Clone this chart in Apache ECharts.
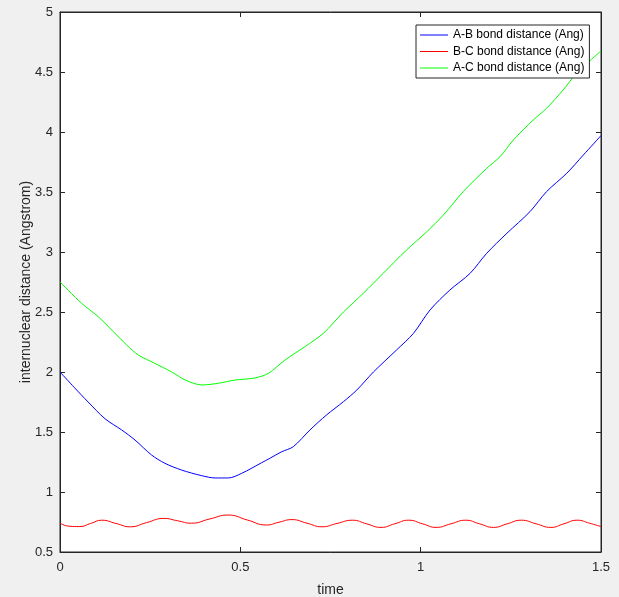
<!DOCTYPE html>
<html>
<head>
<meta charset="utf-8">
<script src="https://cdn.jsdelivr.net/npm/echarts@6/dist/echarts.min.js"></script>
<style>
html,body{margin:0;padding:0;background:#f0f0f0;}
#main{width:619px;height:597px;}
</style>
</head>
<body>
<div id="main"></div>
<script>
// bond distances
var ab_t = [0,0.04,0.078,0.125,0.171,0.208,0.254,0.291,0.337,0.393,0.43,0.467,0.504,0.559,0.582,0.615,0.647,0.693,0.739,0.786,0.823,0.869,0.933,0.98,1.026,1.081,1.137,1.183,1.239,1.303,1.349,1.405,1.451,1.5];
var ab_d = [2.0,1.87,1.75,1.61,1.517,1.433,1.308,1.239,1.183,1.136,1.117,1.117,1.156,1.244,1.281,1.336,1.378,1.517,1.642,1.753,1.85,2.0,2.183,2.322,2.517,2.683,2.822,2.989,3.156,3.336,3.503,3.656,3.808,3.97];

var bc_t = [0,0.025,0.055,0.085,0.116,0.155,0.195,0.24,0.288,0.326,0.364,0.415,0.466,0.52,0.572,0.607,0.643,0.685,0.726,0.768,0.811,0.85,0.89,0.928,0.967,1.005,1.043,1.084,1.125,1.163,1.202,1.24,1.279,1.32,1.361,1.397,1.434,1.468,1.5];
var bc_d = [0.74,0.715,0.712,0.738,0.765,0.738,0.71,0.745,0.78,0.76,0.74,0.775,0.808,0.766,0.725,0.748,0.77,0.74,0.71,0.738,0.765,0.735,0.705,0.735,0.765,0.735,0.705,0.735,0.765,0.735,0.705,0.735,0.765,0.735,0.705,0.735,0.765,0.74,0.712];

var ac_t = [0,0.06,0.106,0.148,0.185,0.217,0.263,0.31,0.347,0.393,0.439,0.485,0.54,0.578,0.624,0.679,0.73,0.786,0.841,0.896,0.961,1.017,1.063,1.118,1.183,1.22,1.257,1.312,1.349,1.395,1.432,1.5];
var ac_d = [2.75,2.572,2.461,2.336,2.225,2.142,2.072,2.0,1.933,1.892,1.906,1.933,1.95,1.989,2.1,2.211,2.322,2.5,2.656,2.822,3.017,3.169,3.308,3.503,3.697,3.794,3.933,4.1,4.197,4.35,4.489,4.675];

var names = ['A-B bond distance (Ang)','B-C bond distance (Ang)','A-C bond distance (Ang)'];
var colors = ['#0000ff','#ff0000','#00ff00'];

function pairs(t, d){
	var out = [];
	for(var i = 0; i < t.length; i++) out.push([t[i], d[i]]);
	return out;
}

var font = 'Liberation Sans, Arial, sans-serif';
var axisCol = '#262626';
var tick = {show: true, inside: true, length: 5, lineStyle: {color: axisCol}};
var line = {show: true, onZero: false, lineStyle: {color: axisCol}};

var legendData = [];
for(var i = 0; i < names.length; i++){
	legendData.push({name: names[i], icon: 'rect', itemStyle: {color: colors[i], borderWidth: 0}});
}

var myChart = echarts.init(document.getElementById('main'));
var option = {
	backgroundColor: '#f0f0f0',
	animation: false,
	textStyle: {fontFamily: font},
	grid: {left: 60, right: 18, top: 12, bottom: 45, outerBoundsMode: 'none', containLabel: false,
		show: true, backgroundColor: '#fff', borderWidth: 1, borderColor: axisCol},
	legend: {
		orient: 'vertical',
		left: 416, top: 25,
		padding: [4, 5, 4, 4],
		itemWidth: 28, itemHeight: 1, itemGap: 4.5,
		borderColor: axisCol, borderWidth: 1,
		backgroundColor: '#fff',
		textStyle: {fontFamily: font, fontSize: 12, color: '#000', height: 12, lineHeight: 12},
		data: legendData
	},
	xAxis: [{
		type: 'value', min: 0, max: 1.5, interval: 0.5,
		name: 'time', nameLocation: 'middle', nameGap: 31, nameMoveOverlap: false,
		nameTextStyle: {fontFamily: font, fontSize: 14, color: axisCol},
		axisLine: line,
		axisTick: tick,
		axisLabel: {fontFamily: font, fontSize: 13, color: axisCol, margin: 9},
		splitLine: {show: false}
	}, {
		type: 'value', min: 0, max: 1.5, interval: 0.5, position: 'top',
		axisLine: line,
		axisTick: tick,
		axisLabel: {show: false},
		splitLine: {show: false}
	}],
	yAxis: [{
		type: 'value', min: 0.5, max: 5, interval: 0.5,
		name: 'internuclear distance (Angstrom)', nameLocation: 'middle', nameGap: 27, nameMoveOverlap: false,
		nameTextStyle: {fontFamily: font, fontSize: 14, color: axisCol},
		axisLine: line,
		axisTick: tick,
		axisLabel: {fontFamily: font, fontSize: 13, color: axisCol, margin: 7},
		splitLine: {show: false}
	}, {
		type: 'value', min: 0.5, max: 5, interval: 0.5, position: 'right',
		axisLine: line,
		axisTick: tick,
		axisLabel: {show: false},
		splitLine: {show: false}
	}],
	series: [
		{name: names[0], type: 'line', symbol: 'none', smooth: 0.3, data: pairs(ab_t, ab_d),
		 itemStyle: {color: colors[0]}, lineStyle: {color: colors[0], width: 1}},
		{name: names[1], type: 'line', symbol: 'none', smooth: true, data: pairs(bc_t, bc_d),
		 itemStyle: {color: colors[1]}, lineStyle: {color: colors[1], width: 1}},
		{name: names[2], type: 'line', symbol: 'none', smooth: 0.3, data: pairs(ac_t, ac_d),
		 itemStyle: {color: colors[2]}, lineStyle: {color: colors[2], width: 1}}
	]
};
myChart.setOption(option);
</script>
</body>
</html>
